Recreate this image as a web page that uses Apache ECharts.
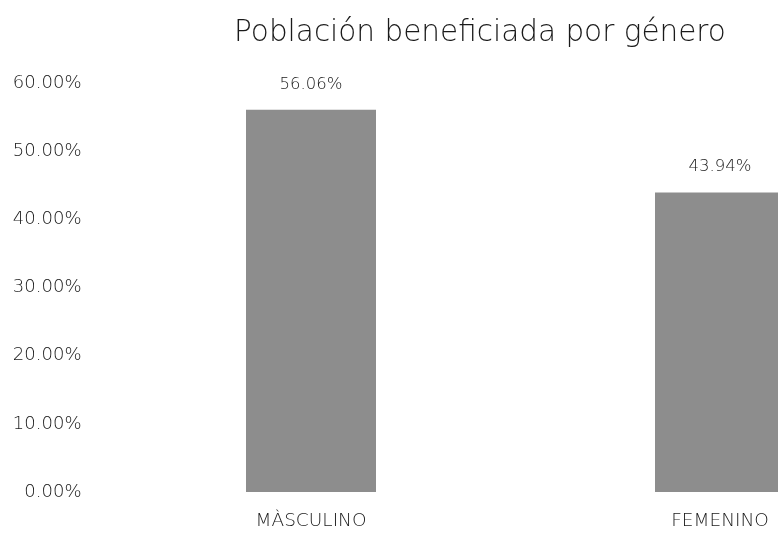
<!DOCTYPE html>
<html>
<head>
<meta charset="utf-8">
<script src="https://cdn.jsdelivr.net/npm/echarts@6/dist/echarts.min.js"></script>
<style>html,body{margin:0;padding:0;background:#fff;}#c{width:778px;height:533px;}</style>
</head>
<body>
<div id="c"></div>
<script>
const titleText = 'Población beneficiada por género';
const categories = ['MÀSCULINO', 'FEMENINO'];
const values = [56.06, 43.94];

const chart = echarts.init(document.getElementById('c'));
chart.setOption({
  backgroundColor: '#ffffff',
  animation: false,
  title: {
    text: titleText,
    left: 475, top: 13, textAlign: 'center',
    textStyle: { fontFamily: 'DejaVu Sans', fontSize: 29.5, fontWeight: 200, color: '#1a1a1a' }
  },
  grid: { left: 106.5, width: 818, top: 83, bottom: 41, outerBoundsMode: 'none', containLabel: false },
  xAxis: {
    type: 'category', data: categories,
    axisLine: { show: false }, axisTick: { show: false },
    axisLabel: { margin: 18, fontFamily: 'DejaVu Sans', fontSize: 18.5, fontWeight: 200, color: '#1a1a1a', lineHeight: 22 }
  },
  yAxis: {
    type: 'value', min: 0, max: 60, interval: 10,
    splitLine: { show: false }, axisLine: { show: false }, axisTick: { show: false },
    axisLabel: {
      margin: 25, fontFamily: 'DejaVu Sans', fontSize: 18, fontWeight: 200, color: '#1a1a1a',
      formatter: v => v.toFixed(2) + '%'
    }
  },
  series: [{
    type: 'bar', data: values, barWidth: 130,
    itemStyle: { color: '#8d8d8d' },
    label: {
      show: true, position: 'top', distance: 17,
      fontFamily: 'DejaVu Sans', fontSize: 16.5, fontWeight: 200, color: '#1a1a1a',
      formatter: p => p.value.toFixed(2) + '%'
    }
  }]
});
</script>
</body>
</html>
